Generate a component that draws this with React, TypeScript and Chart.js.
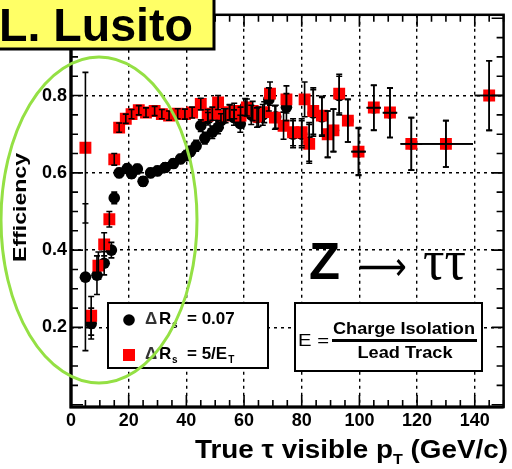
import React, { useEffect, useRef } from "react";
import { Chart, registerables } from "chart.js";
Chart.register(...registerables);

// ---------- data ----------
// Red squares: ΔR_s = 5/E_T
const redX = [5, 7, 9.5, 11.5, 13.3, 15, 16.7, 19, 21, 23.5, 26, 29, 31.5, 34, 37, 39.5, 42, 45, 47.4, 49, 51, 53, 55, 56.6, 58.8, 61, 63, 65, 67, 69, 70.7, 73.7, 74.7, 77, 80, 81, 82.6, 84, 87, 89, 91, 93, 96, 99.7, 105, 110.6, 118, 130, 145];
const redY = [0.665, 0.23, 0.36, 0.415, 0.48, 0.635, 0.717, 0.74, 0.752, 0.762, 0.756, 0.76, 0.752, 0.748, 0.753, 0.752, 0.756, 0.778, 0.748, 0.753, 0.782, 0.748, 0.757, 0.76, 0.748, 0.769, 0.76, 0.745, 0.757, 0.805, 0.743, 0.722, 0.79, 0.705, 0.705, 0.79, 0.675, 0.76, 0.748, 0.7, 0.71, 0.805, 0.735, 0.655, 0.769, 0.756, 0.675, 0.675, 0.8];
const redErr = [0.195, 0.05, 0.035, 0.03, 0.02, 0.015, 0.012, 0.012, 0.012, 0.012, 0.012, 0.012, 0.012, 0.012, 0.013, 0.013, 0.014, 0.015, 0.016, 0.017, 0.018, 0.018, 0.02, 0.02, 0.022, 0.022, 0.025, 0.025, 0.027, 0.03, 0.03, 0.035, 0.035, 0.035, 0.035, 0.045, 0.05, 0.06, 0.05, 0.06, 0.055, 0.05, 0.055, 0.062, 0.058, 0.064, 0.068, 0.06, 0.09];
const redXErr = [0, 0, 0, 0, 0, 0, 0, 0, 0, 0, 0, 0, 0, 0, 0, 0, 0, 0, 0, 0, 0, 0, 0, 0, 0, 0, 0, 0, 0, 0, 0, 0, 0, 0, 0, 0, 0, 0, 0, 0, 0, 0, 0, 2.5, 2.5, 2.5, 3.75, 9.4, 5];

// Black circles: ΔR_s = 0.07
const blackX = [5, 7, 9, 11.5, 14, 15, 16.7, 19.5, 21, 23, 25, 27.6, 30, 32.7, 35.5, 38, 40, 41.5, 43.4, 45, 46.4, 47.5, 49, 51, 52, 53.6, 55, 56.5, 58.7, 60.4, 62.5, 64.5, 66.5, 68.6, 71, 74.7, 77, 80, 82.6, 84, 87, 89, 91, 93, 96, 99.7, 105, 110.6, 118, 130, 145];
const blackY = [0.33, 0.21, 0.335, 0.366, 0.4, 0.535, 0.6, 0.611, 0.598, 0.61, 0.578, 0.6, 0.605, 0.614, 0.624, 0.636, 0.645, 0.656, 0.67, 0.722, 0.69, 0.74, 0.705, 0.718, 0.735, 0.748, 0.756, 0.743, 0.727, 0.77, 0.75, 0.743, 0.75, 0.79, 0.745, 0.77, 0.7, 0.7, 0.68, 0.755, 0.745, 0.7, 0.71, 0.8, 0.735, 0.655, 0.768, 0.755, 0.675, 0.675, 0.8];
const blackErr = [0.19, 0.04, 0.05, 0.03, 0.02, 0.015, 0.012, 0.012, 0.012, 0.012, 0.012, 0.012, 0.012, 0.012, 0.012, 0.012, 0.013, 0.013, 0.014, 0.015, 0.015, 0.016, 0.016, 0.017, 0.018, 0.018, 0.02, 0.02, 0.022, 0.022, 0.025, 0.025, 0.027, 0.03, 0.03, 0.035, 0.035, 0.035, 0.05, 0.06, 0.05, 0.06, 0.055, 0.05, 0.055, 0.06, 0.058, 0.064, 0.068, 0.06, 0.09];
const blackXErr = [0, 0, 0, 0, 0, 0, 0, 0, 0, 0, 0, 0, 0, 0, 0, 0, 0, 0, 0, 0, 0, 0, 0, 0, 0, 0, 0, 0, 0, 0, 0, 0, 0, 0, 0, 0, 0, 0, 0, 0, 0, 0, 0, 0, 0, 2.5, 2.5, 2.5, 3.75, 9.4, 5];

const xTicks = [0, 20, 40, 60, 80, 100, 120, 140];
const yTicks = [0.2, 0.4, 0.6, 0.8];
const xMinor = [0, 5, 10, 15, 20, 25, 30, 35, 40, 45, 50, 55, 60, 65, 70, 75, 80, 85, 90, 95, 100, 105, 110, 115, 120, 125, 130, 135, 140, 145, 150];
const yMinor = [0, 0.05, 0.1, 0.15, 0.2, 0.25, 0.3, 0.35, 0.4, 0.45, 0.5, 0.55, 0.6, 0.65, 0.7, 0.75, 0.8, 0.85, 0.9, 0.95, 1.0];

const legendLabels = ["= 0.07", "= 5/E"];
const formulaTop = "Charge Isolation";
const formulaBottom = "Lead Track";
const authorLabel = "L. Lusito";

const SANS = '"Liberation Sans", Arial, sans-serif';

function fitText(ctx: CanvasRenderingContext2D, text: string, x: number, y: number, targetW: number, font: string, align: "left" | "center" = "left") {
  ctx.save();
  ctx.font = font;
  const w = ctx.measureText(text).width;
  const s = targetW / w;
  ctx.translate(x, y);
  ctx.scale(s, 1);
  ctx.textAlign = "left";
  ctx.textBaseline = "alphabetic";
  ctx.fillText(text, align === "center" ? -w / 2 : 0, 0);
  ctx.restore();
}

const decor = {
  id: "decor",
  beforeDraw(chart: any) {
    const ctx = chart.ctx;
    ctx.save();
    ctx.fillStyle = "#fff";
    ctx.fillRect(0, 0, chart.width, chart.height);
    ctx.restore();
  },
  afterDatasetsDraw(chart: any) {
    const ctx: CanvasRenderingContext2D = chart.ctx;
    const xs = chart.scales.x, ys = chart.scales.y;
    const a = chart.chartArea;
    ctx.save();
    ctx.beginPath();
    ctx.rect(a.left, a.top, a.right - a.left, a.bottom - a.top);
    ctx.clip();
    ctx.strokeStyle = "#000";
    ctx.lineWidth = 1.6;
    const drawSet = (X: number[], Y: number[], E: number[], XE: number[]) => {
      for (let i = 0; i < X.length; i++) {
        const px = xs.getPixelForValue(X[i]);
        const py = ys.getPixelForValue(Y[i]);
        const top = ys.getPixelForValue(Y[i] + E[i]);
        const bot = ys.getPixelForValue(Y[i] - E[i]);
        ctx.beginPath();
        ctx.moveTo(px, top); ctx.lineTo(px, bot);
        ctx.moveTo(px - 3, top); ctx.lineTo(px + 3, top);
        ctx.moveTo(px - 3, bot); ctx.lineTo(px + 3, bot);
        if (XE[i] > 0) {
          ctx.moveTo(xs.getPixelForValue(X[i] - XE[i]), py);
          ctx.lineTo(xs.getPixelForValue(X[i] + XE[i]), py);
        }
        ctx.stroke();
      }
    };
    drawSet(blackX, blackY, blackErr, blackXErr);
    drawSet(redX, redY, redErr, redXErr);
    ctx.restore();
  },
  afterDraw(chart: any) {
    const ctx: CanvasRenderingContext2D = chart.ctx;
    const xs = chart.scales.x, ys = chart.scales.y;
    const a = chart.chartArea;
    ctx.save();
    ctx.fillStyle = "#000";
    ctx.strokeStyle = "#000";

    // inward ticks
    ctx.lineWidth = 1.6;
    ctx.beginPath();
    for (const v of xMinor) {
      const px = xs.getPixelForValue(v);
      const len = v % 20 === 0 ? 12 : 7;
      ctx.moveTo(px, a.bottom); ctx.lineTo(px, a.bottom - len);
      ctx.moveTo(px, a.top); ctx.lineTo(px, a.top + len);
    }
    for (const v of yMinor) {
      const py = ys.getPixelForValue(v);
      const major = Math.abs(v / 0.2 - Math.round(v / 0.2)) < 1e-6;
      const len = major ? 12 : 7;
      ctx.moveTo(a.left, py); ctx.lineTo(a.left + len, py);
      ctx.moveTo(a.right, py); ctx.lineTo(a.right - len, py);
    }
    ctx.stroke();

    // frame
    ctx.lineWidth = 2.5;
    ctx.strokeRect(a.left, a.top, a.right - a.left, a.bottom - a.top);
    ctx.lineWidth = 3.2;
    ctx.beginPath();
    ctx.moveTo(a.left, a.top); ctx.lineTo(a.left, a.bottom); ctx.lineTo(a.right, a.bottom);
    ctx.stroke();

    // Z -> tau tau
    ctx.fillStyle = "#000";
    ctx.textBaseline = "alphabetic";
    fitText(ctx, "Z", 309, 279, 31, `bold 52px ${SANS}`);
    fitText(ctx, "\u27F6", 358, 280, 49, `40px "DejaVu Sans"`);
    fitText(ctx, "\u03C4\u03C4", 423, 279, 43, `58px "Liberation Serif"`);

    // formula box
    ctx.fillStyle = "#fff";
    ctx.fillRect(295, 303, 187, 68);
    ctx.lineWidth = 2;
    ctx.strokeRect(295, 303, 187, 68);
    ctx.fillStyle = "#000";
    fitText(ctx, "E =", 298, 346, 31, `17px ${SANS}`);
    fitText(ctx, formulaTop, 404, 334, 142, `bold 17px ${SANS}`, "center");
    ctx.fillRect(332, 339, 145, 3);
    fitText(ctx, formulaBottom, 405, 358, 95, `bold 17px ${SANS}`, "center");

    // legend box
    ctx.fillStyle = "#fff";
    ctx.fillRect(108, 303, 160, 65);
    ctx.lineWidth = 2;
    ctx.strokeRect(108, 303, 160, 65);
    ctx.fillStyle = "#000";
    ctx.beginPath();
    ctx.arc(129, 320, 5.8, 0, Math.PI * 2);
    ctx.fill();
    ctx.fillStyle = "#ff0000";
    ctx.fillRect(123, 349, 12, 12);
    ctx.fillStyle = "#000";
    const rows = [324, 359];
    rows.forEach((by, i) => {
      ctx.font = `bold 17px ${SANS}`;
      ctx.textAlign = "left";
      ctx.fillStyle = "#333";
      ctx.fillText("\u0394", 145, by);
      ctx.fillStyle = "#000";
      ctx.fillText("R", 159, by);
      ctx.font = `bold 10px ${SANS}`;
      ctx.fillText("s", 172, by + 4);
      ctx.font = `bold 17px ${SANS}`;
      ctx.fillText(legendLabels[i], 187, by);
      if (i === 1) {
        const w = ctx.measureText(legendLabels[i]).width;
        ctx.font = `bold 10px ${SANS}`;
        ctx.fillText("T", 187 + w + 1, by + 4);
      }
    });

    // axis titles
    ctx.fillStyle = "#000";
    {
      const big = `bold 26px ${SANS}`;
      const small = `bold 15px ${SANS}`;
      ctx.font = big;
      const w1 = ctx.measureText("True \u03C4 visible p").width;
      ctx.font = small;
      const w2 = ctx.measureText("T").width;
      ctx.font = big;
      const w3 = ctx.measureText(" (GeV/c)").width;
      const total = w1 + w2 + w3;
      const s = (508 - 195) / total;
      ctx.save();
      ctx.translate(195, 458);
      ctx.scale(s, 1);
      ctx.textAlign = "left";
      ctx.font = big;
      ctx.fillText("True \u03C4 visible p", 0, 0);
      ctx.font = small;
      ctx.fillText("T", w1, 6);
      ctx.font = big;
      ctx.fillText(" (GeV/c)", w1 + w2, 0);
      ctx.restore();
    }
    ctx.save();
    ctx.translate(26, 262);
    ctx.rotate(-Math.PI / 2);
    fitText(ctx, "Efficiency", 0, 0, 109, `bold 19px ${SANS}`);
    ctx.restore();

    // green ellipse
    ctx.strokeStyle = "#94e044";
    ctx.lineWidth = 3;
    ctx.beginPath();
    ctx.ellipse(99, 220, 98, 163, 0, 0, Math.PI * 2);
    ctx.stroke();

    // author label
    ctx.fillStyle = "#ffff66";
    ctx.fillRect(-3, -3, 217, 52);
    ctx.strokeStyle = "#000";
    ctx.lineWidth = 3;
    ctx.strokeRect(-3, -3, 217, 52);
    ctx.fillStyle = "#000";
    fitText(ctx, authorLabel, -1, 41, 194, `bold 46px ${SANS}`);

    ctx.restore();
  },
};

export default function App() {
  const ref = useRef<HTMLCanvasElement | null>(null);
  useEffect(() => {
    if (!ref.current) return;
    const chart = new Chart(ref.current, {
      type: "scatter",
      data: {
        datasets: [
          {
            label: "\u0394R_s = 5/E_T",
            data: redX.map((x, i) => ({ x, y: redY[i] })),
            pointStyle: "rect",
            pointRadius: 8.4,
            pointHoverRadius: 8.4,
            backgroundColor: "#ff0000",
            borderWidth: 0,
          },
          {
            label: "\u0394R_s = 0.07",
            data: blackX.map((x, i) => ({ x, y: blackY[i] })),
            pointStyle: "circle",
            pointRadius: 5.8,
            pointHoverRadius: 5.8,
            backgroundColor: "#000",
            borderWidth: 0,
          },
        ],
      },
      options: {
        animation: false,
        responsive: false,
        events: [],
        layout: { padding: { left: 42, right: 3, top: 14, bottom: 32 } },
        plugins: { legend: { display: false }, tooltip: { enabled: false } },
        scales: {
          x: {
            type: "linear",
            min: 0,
            max: 150,
            afterBuildTicks: (s: any) => { s.ticks = xTicks.map((v) => ({ value: v })); },
            afterFit: (s: any) => { s.height = 30; },
            ticks: {
              callback: (v: any) => String(v),
              color: "#000",
              padding: 3,
              maxRotation: 0,
              font: { family: "Liberation Sans", weight: "bold", size: 18 },
            },
            grid: { color: "#000", lineWidth: 1.4, drawTicks: false },
            border: { display: false, dash: [3, 4] },
          },
          y: {
            type: "linear",
            min: -0.006,
            max: 1.009,
            afterBuildTicks: (s: any) => { s.ticks = yTicks.map((v) => ({ value: v })); },
            afterFit: (s: any) => { s.width = 29; },
            ticks: {
              callback: (v: any) => Number(v).toFixed(1),
              color: "#000",
              padding: 4,
              font: { family: "Liberation Sans", weight: "bold", size: 18 },
            },
            grid: { color: "#000", lineWidth: 1.4, drawTicks: false },
            border: { display: false, dash: [3, 4] },
          },
        },
      },
      plugins: [decor],
    } as any);
    return () => chart.destroy();
  }, []);
  return (
    <div style={{ position: "fixed", left: 0, top: 0, width: 512, height: 469 }}>
      <canvas ref={ref} width={512} height={469} style={{ width: 512, height: 469, display: "block" }} />
    </div>
  );
}
